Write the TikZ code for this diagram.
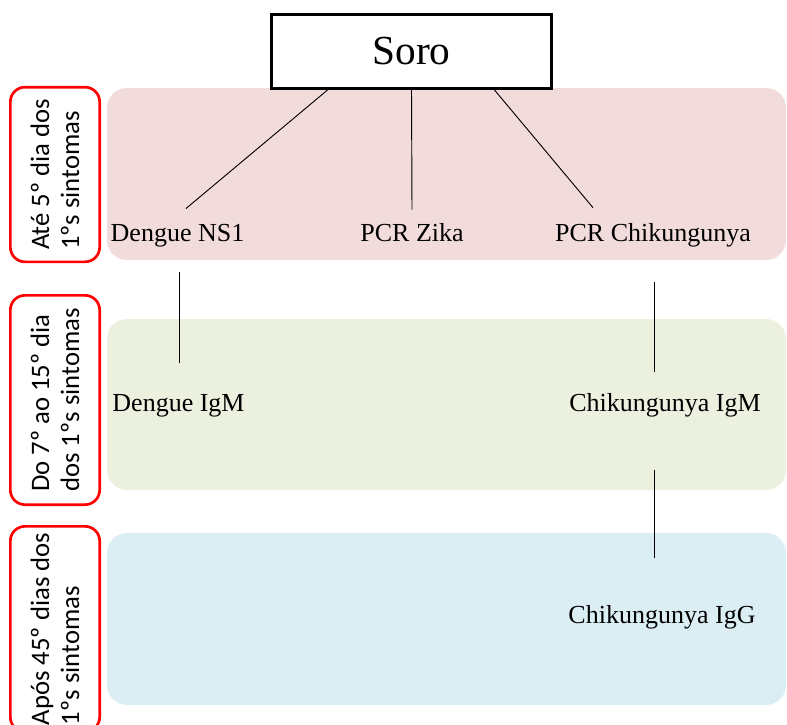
\documentclass[tikz,border=0pt]{standalone}
\usepackage{fontspec}
\setmainfont{Liberation Serif}
\newfontfamily\agefont{Carlito}
\usetikzlibrary{calc}
\definecolor{earlyband}{RGB}{242,220,219}
\definecolor{midband}{RGB}{235,241,222}
\definecolor{lateband}{RGB}{219,238,244}
\tikzset{
  band/.style={fill=#1, rounded corners=15pt},
  agebox/.style={draw=red, line width=2pt, rounded corners=11pt, rotate=90,
    align=left, inner sep=0pt, font=\agefont\fontsize{20}{22.5}\selectfont},
  exam/.style={anchor=base, inner sep=0pt, font=\fontsize{19.5}{23}\selectfont},
  link/.style={line width=0.7pt}
}

\begin{document}
\begin{tikzpicture}[x=0.75pt,y=-0.75pt]
\useasboundingbox (0,0) rectangle (787,724);
\clip (0,0) rectangle (787,724);
% bands
\fill[band=earlyband] (107,88) rectangle (786,260);
\fill[band=midband] (107,319) rectangle (786,490);
\fill[band=lateband] (107,533) rectangle (786,705);
% age labels
\node[agebox, minimum width=131pt, minimum height=67pt] (age1) at (55,174.5) {Até 5º dia dos\\1ºs sintomas};
\node[agebox, minimum width=157pt, minimum height=67pt] (age2) at (55,400) {Do 7º ao 15º dia\\dos 1ºs sintomas};
\node[agebox, minimum width=154pt, minimum height=67pt] (age3) at (55,629) {Após 45º dias dos\\1ºs sintomas};
% exams
\node[draw, line width=2.25pt, fill=white, minimum width=210pt, minimum height=55.5pt,
  font=\fontsize{31}{36}\selectfont] (soro) at (411.5,51.5) {Soro};
\node[exam] (ns1) at (177.5,241) {Dengue NS1};
\node[exam] (zika) at (412,241) {PCR Zika};
\node[exam] (pcrchik) at (653,241) {PCR Chikungunya};
\node[exam] (dengueigm) at (178.5,411) {Dengue IgM};
\node[exam] (chikigm) at (665,411) {Chikungunya IgM};
\node[exam] (chikigg) at (662,623) {Chikungunya IgG};
% links
\draw[link] ($(soro.south)+(-84,0)$) -- ($(ns1.north)+(8.5,-15)$);
\draw[link] (soro.south) -- ($(zika.north)+(0,-13)$);
\draw[link] ($(soro.south)+(83,0)$) -- ($(pcrchik.north)+(-60,-15)$);
\draw[link] ($(ns1.south)+(1.5,25)$) -- ($(ns1.south |- dengueigm.north)+(1.5,-31)$);
\draw[link] ($(pcrchik.south)+(1,35)$) -- ($(pcrchik.south |- chikigm.north)+(1,-21)$);
\draw[link] ($(pcrchik.south |- chikigm.south)+(1,53)$) -- ($(pcrchik.south |- chikigg.north)+(1,-47)$);
\end{tikzpicture}
\end{document}
